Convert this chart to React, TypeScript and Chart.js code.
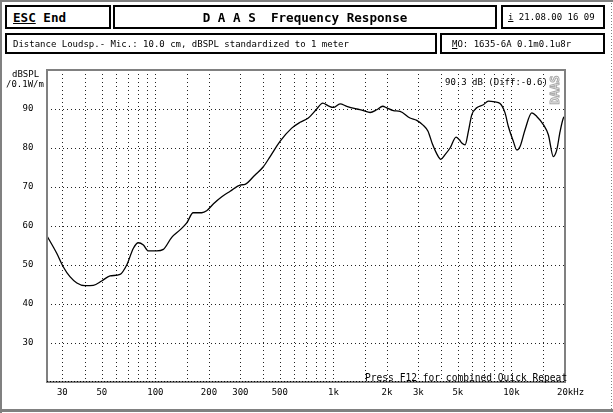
import React, { useEffect, useRef } from 'react';
import { Chart, registerables } from 'chart.js';

Chart.register(...registerables);

// ---- data ----
const freqHz = [
  24.7, 27.9, 30.4, 33.1, 36.2, 40.2, 44.8, 49.9, 55.6, 63.3, 69, 75.2, 80.2, 85.6, 91.3,
  101.7, 110.8, 123.5, 137.5, 150, 163, 182, 194, 212, 236, 263, 299, 319, 363, 404, 441,
  501, 583, 650, 723, 806, 871, 937, 999, 1090, 1188, 1352, 1473, 1607, 1752, 1893, 1994,
  2171, 2368, 2694, 2939, 3201, 3400, 3600, 3808, 4009, 4238, 4522, 4887, 5100, 5262, 5491,
  5727, 5986, 6386, 6957, 7423, 8094, 8631, 9209, 9611, 10254, 10715, 11182, 11928, 13008,
  13877, 15115, 16125, 17202, 17977, 18763, 19582, 20000,
];
const splDb = [
  57.3, 53.0, 49.5, 47.0, 45.4, 44.7, 44.8, 45.9, 47.2, 47.6, 50.0, 54.3, 55.7, 55.1, 53.6,
  53.6, 54.0, 57.1, 59.0, 60.8, 63.4, 63.4, 63.9, 65.7, 67.5, 68.9, 70.5, 70.7, 73.1, 75.2, 77.8,
  81.7, 85.1, 86.6, 87.7, 90.0, 91.5, 90.8, 90.4, 91.3, 90.7, 90.0, 89.6, 89.1, 89.8, 90.7, 90.3,
  89.6, 89.4, 87.7, 87.1, 85.8, 84.3, 81.0, 78.5, 77.1, 78.3, 80.0, 82.8, 82.1, 81.3, 80.8,
  84.2, 88.5, 90.3, 91.1, 92.0, 91.8, 91.4, 89.0, 85.5, 81.7, 79.5, 80.4, 84.7, 89.0,
  88.1, 86.0, 83.4, 77.8, 79.5, 84.2, 87.7, 88.1,
];
const xTickValues = [30, 50, 100, 200, 300, 500, 1000, 2000, 3000, 5000, 10000, 20000];
const xTickLabels = ['30', '50', '100', '200', '300', '500', '1k', '2k', '3k', '5k', '10k', '20kHz'];
const xGridValues = [
  30, 40, 50, 60, 70, 80, 90, 100, 150, 200, 300, 400, 500, 600, 700, 800, 900, 1000, 1500,
  2000, 3000, 4000, 5000, 6000, 7000, 8000, 9000, 10000, 15000,
];
const yTickValues = [30, 40, 50, 60, 70, 80, 90];
const yTickLabels = ['30', '40', '50', '60', '70', '80', '90'];
const yUnitLines = ['dBSPL', '/0.1W/m'];
const readoutText = '90.3 dB (Diff:-0.6)';
const watermarkText = 'DAAS';
const footerText = 'Press F12 for combined Quick Repeat';

const MONO = '"DejaVu Sans Mono", "Liberation Mono", monospace';

const framePlugin = {
  id: 'daasFrame',
  beforeDatasetsDraw(chart: any) {
    const { ctx, chartArea: a, scales } = chart;
    const x = scales.x;
    const y = scales.y;
    ctx.save();
    ctx.strokeStyle = '#222';
    ctx.lineWidth = 1;
    ctx.setLineDash([1, 3]);
    for (const v of xGridValues) {
      const px = Math.round(x.getPixelForValue(v)) + 0.5;
      ctx.beginPath();
      ctx.moveTo(px, a.top);
      ctx.lineTo(px, a.bottom);
      ctx.stroke();
    }
    for (const v of yTickValues) {
      const py = Math.round(y.getPixelForValue(v)) + 0.5;
      ctx.beginPath();
      ctx.moveTo(a.left, py);
      ctx.lineTo(a.right, py);
      ctx.stroke();
    }
    ctx.restore();
  },
  afterDatasetsDraw(chart: any) {
    const { ctx, chartArea: a, scales, width, height } = chart;
    const x = scales.x;
    const y = scales.y;
    ctx.save();
    // plot border
    ctx.strokeStyle = '#808080';
    ctx.lineWidth = 2;
    ctx.setLineDash([]);
    ctx.strokeRect(a.left, a.top, a.right - a.left, a.bottom - a.top);
    // bottom dotted overlay
    ctx.strokeStyle = '#000';
    ctx.lineWidth = 1;
    ctx.setLineDash([1, 2]);
    ctx.beginPath();
    ctx.moveTo(a.left, Math.round(a.bottom) - 0.5);
    ctx.lineTo(a.right, Math.round(a.bottom) - 0.5);
    ctx.stroke();
    ctx.setLineDash([]);

    // outer frame
    ctx.fillStyle = '#808080';
    ctx.fillRect(0, 0, width, 2);
    ctx.fillRect(0, 0, 2, height);
    ctx.fillRect(0, 409, width, 3);
    ctx.strokeStyle = '#808080';
    ctx.setLineDash([1, 2]);
    ctx.beginPath();
    ctx.moveTo(611.5, 0);
    ctx.lineTo(611.5, height);
    ctx.stroke();
    ctx.setLineDash([]);

    // tick labels
    ctx.fillStyle = '#000';
    ctx.font = `9px ${MONO}`;
    ctx.textBaseline = 'middle';
    xTickValues.forEach((v, i) => {
      const px = x.getPixelForValue(v);
      const label = xTickLabels[i];
      if (i === xTickValues.length - 1) {
        ctx.textAlign = 'left';
        ctx.fillText(label, px - 8, 393);
      } else {
        ctx.textAlign = 'center';
        ctx.fillText(label, px, 393);
      }
    });
    ctx.textAlign = 'center';
    yTickValues.forEach((v, i) => {
      ctx.fillText(yTickLabels[i], 28, y.getPixelForValue(v));
    });
    // unit label
    ctx.textAlign = 'left';
    ctx.fillText(yUnitLines[0], 12, 75);
    ctx.fillText(yUnitLines[1], 6, 85);

    // readout
    ctx.fillText(readoutText, 445, 83);

    // footer
    ctx.font = `9.6px ${MONO}`;
    ctx.textBaseline = 'alphabetic';
    ctx.fillText(footerText, 365, 381);

    // watermark
    ctx.save();
    ctx.translate(556, 90);
    ctx.rotate(-Math.PI / 2);
    ctx.font = `bold 12px ${MONO}`;
    ctx.textAlign = 'center';
    ctx.textBaseline = 'middle';
    ctx.strokeStyle = '#a8a8a8';
    ctx.lineWidth = 1;
    ctx.strokeText(watermarkText, 0, 0);
    ctx.restore();

    ctx.restore();
  },
};

function ChartCanvas() {
  const ref = useRef<HTMLCanvasElement | null>(null);
  useEffect(() => {
    if (!ref.current) return;
    const chart = new Chart(ref.current, {
      type: 'line',
      data: {
        datasets: [
          {
            data: freqHz.map((f, i) => ({ x: f, y: splDb[i] })),
            borderColor: '#000',
            borderWidth: 1.3,
            pointRadius: 0,
            cubicInterpolationMode: 'monotone',
            fill: false,
          },
        ],
      },
      options: {
        animation: false,
        responsive: false,
        maintainAspectRatio: false,
        devicePixelRatio: 1,
        layout: { padding: { left: 47, top: 70, right: 48, bottom: 31 } },
        plugins: { legend: { display: false }, tooltip: { enabled: false } },
        events: [],
        scales: {
          x: { type: 'logarithmic', min: 24.6, max: 20000, display: false },
          y: { type: 'linear', min: 20, max: 100, display: false },
        },
      },
      plugins: [framePlugin],
    } as any);
    return () => chart.destroy();
  }, []);
  return (
    <canvas
      ref={ref}
      width={613}
      height={413}
      style={{ position: 'absolute', left: 0, top: 0, width: 613, height: 413 }}
    />
  );
}

const boxBase: React.CSSProperties = {
  position: 'absolute',
  boxSizing: 'border-box',
  border: '2px solid #000',
  background: '#fff',
  display: 'flex',
  alignItems: 'center',
  whiteSpace: 'pre',
  color: '#000',
};

export default function App() {
  return (
    <div
      style={{
        position: 'fixed',
        left: 0,
        top: 0,
        width: 613,
        height: 413,
        background: '#fff',
        overflow: 'hidden',
      }}
    >
      <ChartCanvas />
      <div
        style={{
          ...boxBase,
          left: 5,
          top: 5,
          width: 106,
          height: 24,
          paddingLeft: 6,
          font: `bold 12.6px ${MONO}`,
        }}
      >
        <span style={{ textDecoration: 'underline' }}>ESC</span>
        <span> End</span>
      </div>
      <div
        style={{
          ...boxBase,
          left: 113,
          top: 5,
          width: 384,
          height: 24,
          justifyContent: 'center',
          font: `bold 12.6px ${MONO}`,
        }}
      >
        D A A S  Frequency Response
      </div>
      <div
        style={{
          ...boxBase,
          left: 501,
          top: 5,
          width: 104,
          height: 24,
          paddingLeft: 5,
          font: `9px ${MONO}`,
        }}
      >
        <span style={{ textDecoration: 'underline' }}>i</span>
        <span> 21.08.00 16 09</span>
      </div>
      <div
        style={{
          ...boxBase,
          left: 5,
          top: 33,
          width: 432,
          height: 21,
          paddingLeft: 6,
          font: `9px ${MONO}`,
        }}
      >
        Distance Loudsp.- Mic.: 10.0 cm, dBSPL standardized to 1 meter
      </div>
      <div
        style={{
          ...boxBase,
          left: 440,
          top: 33,
          width: 165,
          height: 21,
          paddingLeft: 10,
          font: `9px ${MONO}`,
        }}
      >
        <span style={{ textDecoration: 'underline' }}>M</span>
        <span>O: 1635-6A 0.1m0.1u8r</span>
      </div>
    </div>
  );
}
